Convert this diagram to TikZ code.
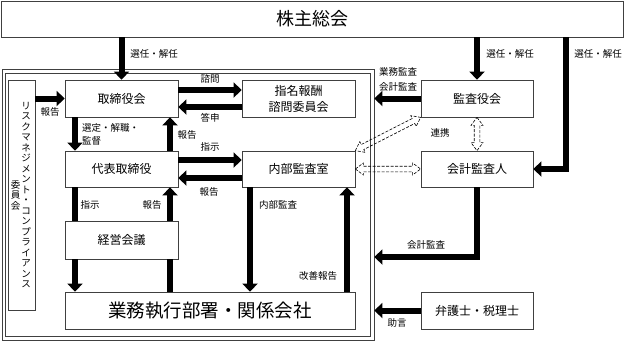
\documentclass[tikz,border=0pt]{standalone}
\usepackage{fontspec}
\newfontfamily\jp{Noto Sans CJK JP}
\usetikzlibrary{arrows.meta,calc}
\tikzset{
  box/.style={draw=black!75, line width=0.7pt, inner sep=0pt, align=center, font=\jp\fontsize{12}{16}\selectfont},
  lbl/.style={inner sep=0pt, font=\jp\fontsize{9.5}{13}\selectfont, align=left},
  vtxt/.style={inner sep=0pt, align=center, font=\jp\fontsize{9.5}{10.5}\selectfont},
  big/.style={line width=6pt},
  bigarrow/.style={line width=6pt, -{Triangle[length=8pt,width=15pt]}},
  frameline/.style={draw=black!75, line width=0.7pt, inner sep=0pt},
  hollow/.style={draw=black, line width=0.6pt, dash pattern=on 3pt off 1.5pt},
}
\newcommand\hollowlink[2]{%
  \draw[hollow] let \p1=(#1), \p2=(#2), \n1={atan2(\y2-\y1,\x2-\x1)}, \n2={veclen(\x2-\x1,\y2-\y1)} in
  [shift={(\p1)}, rotate=\n1]
  (0pt,0pt) -- (8pt,6pt) -- (8pt,2.8pt) -- (\n2*1pt-8pt,2.8pt) -- (\n2*1pt-8pt,6pt) -- (\n2*1pt,0pt)
  -- (\n2*1pt-8pt,-6pt) -- (\n2*1pt-8pt,-2.8pt) -- (8pt,-2.8pt) -- (8pt,-6pt) -- cycle;}
\begin{document}
\begin{tikzpicture}[x=1pt,y=-1pt,font=\jp]
\useasboundingbox (0,0) rectangle (624,341);
% boxes
\node[box, minimum width=622pt, minimum height=36pt, font=\jp\fontsize{18}{20}\selectfont] (kabu) at (312,19) {株主総会};
\node[frameline, minimum width=372pt, minimum height=271pt] (fout) at (188,204.5) {};
\node[frameline, minimum width=365pt, minimum height=263pt] (fin) at (187.5,204.5) {};
\node[box, minimum width=27pt, minimum height=230pt] (risk) at (21.5,195) {};
\node[vtxt] (riskA) at (26,195) {リ\\ス\\ク\\マ\\ネ\\ジ\\メ\\ン\\ト\\・\\コ\\ン\\プ\\ラ\\イ\\ア\\ン\\ス};
\node[vtxt] (riskB) at (15.5,195) {委\\員\\会};
\node[box, minimum width=113pt, minimum height=37pt] (tori) at (121.5,98.5) {取締役会};
\node[box, minimum width=113pt, minimum height=36pt] (daihyo) at (121.5,169) {代表取締役};
\node[box, minimum width=113pt, minimum height=38pt] (keiei) at (121.5,240) {経営会議};
\node[box, minimum width=290pt, minimum height=37pt, font=\jp\fontsize{18.5}{20}\selectfont] (gyomu) at (210,310.5) {業務執行部署・関係会社};
\node[box, minimum width=113pt, minimum height=37pt] (shimei) at (298.5,98.5) {指名報酬\\諮問委員会};
\node[box, minimum width=113pt, minimum height=36pt] (naibu) at (298.5,169) {内部監査室};
\node[box, minimum width=112pt, minimum height=37pt] (kansa) at (477,98.5) {監査役会};
\node[box, minimum width=112pt, minimum height=36pt] (kaikei) at (477,169) {会計監査人};
\node[box, minimum width=112pt, minimum height=37pt] (bengo) at (477,310.5) {弁護士・税理士};
% helper coordinates
\coordinate (xL) at (75,0);
\coordinate (xR) at (170,0);
\coordinate (xN1) at (250,0);
\coordinate (xN2) at (347,0);
\coordinate (xK) at (566,0);
\coordinate (yK) at (0,257);
% arrows
\draw[bigarrow] (kabu.south -| tori.north) -- (tori.north);
\draw[bigarrow] (kabu.south -| kansa.north) -- (kansa.north);
\draw[bigarrow] (kabu.south -| xK) |- (kaikei.east);
\draw[bigarrow] (risk.east |- tori.west) -- (tori.west);
\draw[bigarrow] (tori.south -| xL) -- (daihyo.north -| xL);
\draw[bigarrow] (daihyo.north -| xR) -- (tori.south -| xR);
\draw[bigarrow] ([yshift=8.5pt]tori.east) -- ([yshift=8.5pt]shimei.west);
\draw[bigarrow] ([yshift=-8.5pt]shimei.west) -- ([yshift=-8.5pt]tori.east);
\draw[bigarrow] ([yshift=9pt]daihyo.east) -- ([yshift=9pt]naibu.west);
\draw[bigarrow] ([yshift=-9pt]naibu.west) -- ([yshift=-9pt]daihyo.east);
\draw[big] (daihyo.south -| xL) -- (keiei.north -| xL);
\draw[bigarrow] (keiei.south -| xL) -- (gyomu.north -| xL);
\draw[big] (gyomu.north -| xR) -- (keiei.south -| xR);
\draw[bigarrow] (keiei.north -| xR) -- (daihyo.south -| xR);
\draw[bigarrow] (naibu.south -| xN1) -- (gyomu.north -| xN1);
\draw[bigarrow] (gyomu.north -| xN2) -- (naibu.south -| xN2);
\draw[bigarrow] (kansa.west) -- (fout.east |- kansa.west);
\draw[bigarrow] (kaikei.south) |- (fout.east |- yK);
\draw[bigarrow] (bengo.west) -- (fout.east |- bengo.west);
% hollow dashed links
\hollowlink{naibu.north east}{kansa.south west}
\hollowlink{naibu.east}{kaikei.west}
\hollowlink{kansa.south}{kaikei.north}
% labels
\node[lbl] at (154,54) {選任・解任};
\node[lbl] at (510,54) {選任・解任};
\node[lbl] at (598,54) {選任・解任};
\node[lbl] at (50,112) {報告};
\node[lbl, anchor=west] at (82,134.5) {選定・解職・\\監督};
\node[lbl] at (187,135) {報告};
\node[lbl] at (210,79) {諮問};
\node[lbl] at (210,118) {答申};
\node[lbl] at (210,147) {指示};
\node[lbl] at (209,192) {報告};
\node[lbl] at (90,205) {指示};
\node[lbl] at (152,205) {報告};
\node[lbl] at (278,205) {内部監査};
\node[lbl] at (318,276) {改善報告};
\node[lbl, align=center, font=\jp\fontsize{9.5}{15}\selectfont] at (398,79.5) {業務監査\\会計監査};
\node[lbl] at (440,133) {連携};
\node[lbl] at (426,245) {会計監査};
\node[lbl] at (397,323) {助言};
\end{tikzpicture}
\end{document}
